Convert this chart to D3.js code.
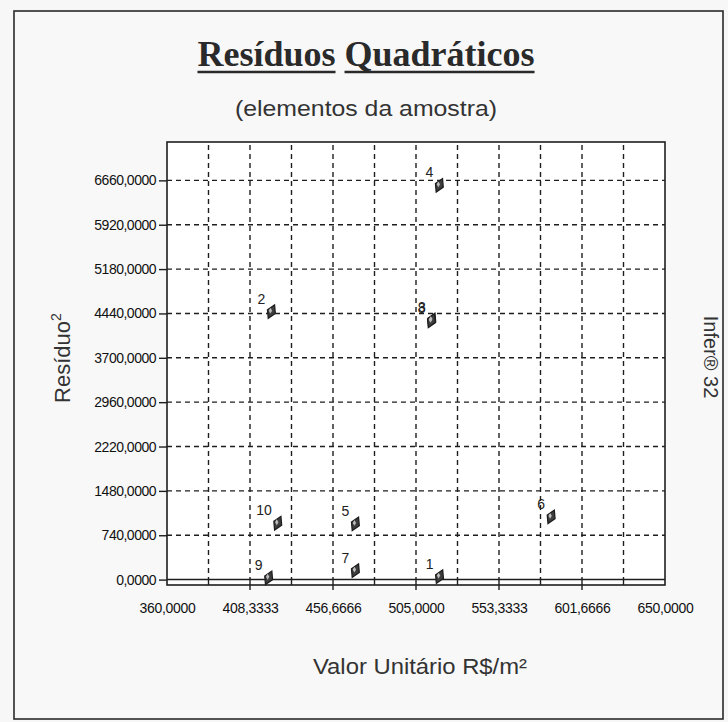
<!DOCTYPE html>
<html>
<head>
<meta charset="utf-8">
<script src="https://cdn.jsdelivr.net/npm/d3@7"></script>
<style>
  html, body { margin: 0; padding: 0; background: #f7f7f7; }
  svg { display: block; }
</style>
</head>
<body>
<svg id="chart" width="728" height="722"></svg>
<script>
// Sample elements: id, unit value (R$/m²) and squared residual
const pointIds = [1, 2, 3, 4, 5, 6, 7, 8, 9, 10];
const valorUnitario = [518.7, 420.8, 514.2, 518.6, 469.7, 583.7, 469.7, 514.0, 419.2, 424.5];
const residuo2 = [50, 4470, 4330, 6577, 929, 1047, 150, 4318, 30, 940];

// Axis ticks and their printed labels
const xTickValues = [360, 408.3333, 456.6666, 505, 553.3333, 601.6666, 650];
const xTickLabels = ["360,0000", "408,3333", "456,6666", "505,0000", "553,3333", "601,6666", "650,0000"];
const yTickValues = [0, 740, 1480, 2220, 2960, 3700, 4440, 5180, 5920, 6660];
const yTickLabels = ["0,0000", "740,0000", "1480,0000", "2220,0000", "2960,0000", "3700,0000",
                     "4440,0000", "5180,0000", "5920,0000", "6660,0000"];

const svg = d3.select("#chart");
const plot = { left: 167, right: 665, top: 142, bottom: 585 };

const x = d3.scaleLinear().domain([360, 650]).range([plot.left, plot.right]);
const y = d3.scaleLinear().domain([-90, 7300]).range([plot.bottom, plot.top]);

// outer frame
svg.append("rect")
  .attr("x", 14).attr("y", 11).attr("width", 709).attr("height", 708)
  .attr("fill", "#f8f8f8").attr("stroke", "#2a2a2a").attr("stroke-width", 1.6);

// title, each word underlined separately
const titleText = "Resíduos Quadráticos";
const title = svg.append("text")
  .attr("x", 366).attr("y", 66)
  .attr("text-anchor", "middle")
  .attr("font-family", "'Liberation Serif', 'Times New Roman', serif")
  .attr("font-weight", "bold")
  .attr("font-size", 36)
  .attr("fill", "#2a2a2a")
  .text(titleText);
{
  const node = title.node();
  const full = node.getComputedTextLength();
  const start = 366 - full / 2;
  const w1 = node.getSubStringLength(0, 8);
  const s2 = node.getSubStringLength(0, 9);
  const w2 = node.getSubStringLength(9, titleText.length - 9);
  [[start, w1], [start + s2, w2]].forEach(([sx, w]) => {
    svg.append("line")
      .attr("x1", sx).attr("x2", sx + w)
      .attr("y1", 72).attr("y2", 72)
      .attr("stroke", "#2a2a2a").attr("stroke-width", 2.6);
  });
}

svg.append("text")
  .attr("x", 366).attr("y", 116)
  .attr("text-anchor", "middle")
  .attr("font-family", "'Liberation Sans', Arial, sans-serif")
  .attr("font-size", 22)
  .attr("textLength", 262).attr("lengthAdjust", "spacingAndGlyphs")
  .attr("fill", "#333")
  .text("(elementos da amostra)");

// plot area
svg.append("rect")
  .attr("x", plot.left).attr("y", plot.top)
  .attr("width", plot.right - plot.left).attr("height", plot.bottom - plot.top)
  .attr("fill", "#ffffff");

// vertical grid at every half tick interval
const xGrid = [];
for (let i = 0; i < xTickValues.length - 1; i++) {
  const a = xTickValues[i], b = xTickValues[i + 1];
  if (i > 0) xGrid.push({ v: a, major: true });
  xGrid.push({ v: (a + b) / 2, major: false });
}
const gridColor = "#1e1e1e";
svg.append("g").selectAll("line").data(xGrid).join("line")
  .attr("x1", d => x(d.v)).attr("x2", d => x(d.v))
  .attr("y1", plot.top + 3).attr("y2", y(0))
  .attr("stroke", gridColor).attr("stroke-width", 1.4)
  .attr("stroke-dasharray", "5,4");

svg.append("g").selectAll("line").data(yTickValues.filter(v => v > 0)).join("line")
  .attr("x1", plot.left).attr("x2", plot.right)
  .attr("y1", d => y(d)).attr("y2", d => y(d))
  .attr("stroke", gridColor).attr("stroke-width", 1.4)
  .attr("stroke-dasharray", "5,4");

// zero line
svg.append("line")
  .attr("x1", plot.left).attr("x2", plot.right)
  .attr("y1", y(0)).attr("y2", y(0))
  .attr("stroke", "#1e1e1e").attr("stroke-width", 1.5);

// plot border
svg.append("rect")
  .attr("x", plot.left).attr("y", plot.top)
  .attr("width", plot.right - plot.left).attr("height", plot.bottom - plot.top)
  .attr("fill", "none").attr("stroke", "#1e1e1e").attr("stroke-width", 1.6);

// ticks between zero line and bottom border
svg.append("g").selectAll("line").data(xGrid).join("line")
  .attr("x1", d => x(d.v)).attr("x2", d => x(d.v))
  .attr("y1", y(0)).attr("y2", d => d.major ? plot.bottom + 5 : plot.bottom)
  .attr("stroke", "#1e1e1e").attr("stroke-width", 1.4);

// y axis
const yAxis = d3.axisLeft(y)
  .tickValues(yTickValues)
  .tickSize(8)
  .tickPadding(3)
  .tickFormat((d, i) => yTickLabels[i]);
const gy = svg.append("g").attr("transform", `translate(${plot.left},0)`).call(yAxis);
gy.select(".domain").remove();
gy.selectAll(".tick line").attr("stroke", "#1e1e1e").attr("stroke-width", 1.4);
gy.selectAll(".tick text")
  .attr("font-family", "'Liberation Sans', Arial, sans-serif")
  .attr("font-size", 14).attr("fill", "#111")
  .attr("letter-spacing", -0.5);

// x axis labels
const xAxis = d3.axisBottom(x)
  .tickValues(xTickValues)
  .tickSize(0)
  .tickPadding(18)
  .tickFormat((d, i) => xTickLabels[i]);
const gx = svg.append("g").attr("transform", `translate(0,${plot.bottom})`).call(xAxis);
gx.select(".domain").remove();
gx.selectAll(".tick text")
  .attr("font-family", "'Liberation Sans', Arial, sans-serif")
  .attr("font-size", 14).attr("fill", "#111")
  .attr("letter-spacing", -0.3);

// axis titles
svg.append("text")
  .attr("x", 420).attr("y", 674)
  .attr("text-anchor", "middle")
  .attr("font-family", "'Liberation Sans', Arial, sans-serif")
  .attr("font-size", 22)
  .attr("textLength", 214).attr("lengthAdjust", "spacingAndGlyphs")
  .attr("fill", "#333")
  .text("Valor Unitário R$/m²");

const yt = svg.append("text")
  .attr("transform", "translate(70,358) rotate(-90)")
  .attr("text-anchor", "middle")
  .attr("font-family", "'Liberation Sans', Arial, sans-serif")
  .attr("font-size", 22)
  .attr("fill", "#333");
yt.append("tspan").text("Resíduo");
yt.append("tspan").attr("dy", -9).attr("font-size", 14).text("2");

svg.append("text")
  .attr("transform", "translate(704,357) rotate(90)")
  .attr("text-anchor", "middle")
  .attr("font-family", "'Liberation Sans', Arial, sans-serif")
  .attr("font-size", 20)
  .attr("fill", "#333")
  .text("Infer® 32");

// points
const pts = pointIds.map((id, i) => ({ id, vx: valorUnitario[i], vy: residuo2[i] }));
const sym = d3.symbol().type(d3.symbolDiamond).size(64);
const gp = svg.append("g");
gp.selectAll("path.mk").data(pts).join("path")
  .attr("class", "mk")
  .attr("d", sym)
  .attr("transform", d => `translate(${x(d.vx)},${y(d.vy)}) rotate(25)`)
  .attr("fill", "#3e3e3e").attr("stroke", "#1e1e1e").attr("stroke-width", 1.3);
gp.selectAll("path.hl").data(pts).join("path")
  .attr("class", "hl")
  .attr("d", d3.symbol().type(d3.symbolDiamond).size(10))
  .attr("transform", d => `translate(${x(d.vx) - 1},${y(d.vy) - 1})`)
  .attr("fill", "#bdbdbd");
// point 3 sits under point 8; both labels share one spot
gp.selectAll("text").data(pts).join("text")
  .attr("x", d => x(d.vx) - 6)
  .attr("y", d => y(d.vy) - 8)
  .attr("text-anchor", "end")
  .attr("font-family", "'Liberation Sans', Arial, sans-serif")
  .attr("font-size", 14)
  .attr("fill", "#222")
  .text(d => d.id);
</script>
</body>
</html>
